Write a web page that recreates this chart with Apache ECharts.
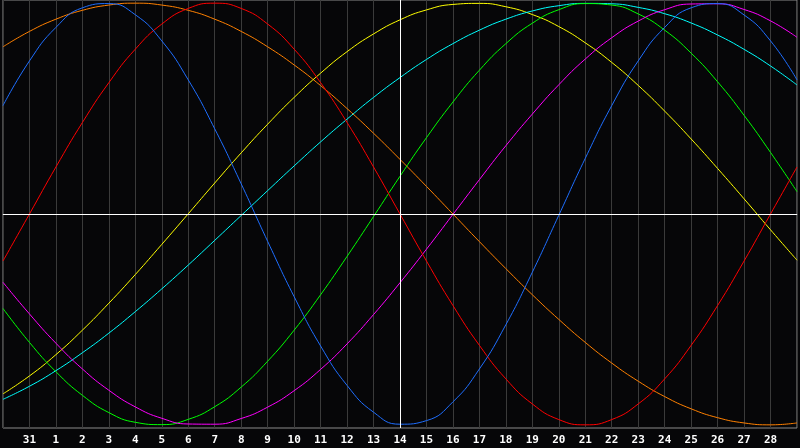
<!DOCTYPE html>
<html>
<head>
<meta charset="utf-8">
<script src="https://cdn.jsdelivr.net/npm/echarts@6/dist/echarts.min.js"></script>
<style>
  html, body { margin: 0; padding: 0; background: #060608; }
  #chart { width: 800px; height: 448px; }
</style>
</head>
<body>
<div id="chart"></div>
<script>
// day labels, first and last are not shown
var days = ['30', '31', '1', '2', '3', '4', '5', '6', '7', '8', '9', '10', '11', '12', '13', '14',
            '15', '16', '17', '18', '19', '20', '21', '22', '23', '24', '25', '26', '27', '28', '1'];
var today = '14';

// curves, percent
var physical = [51.4, 72.6, 88.5, 97.8, 99.8, 94.5, 82.1, 63.6, 40.4, 14.3, -13.0, -39.2, -62.6, -81.3, -94.0, -99.7,
                -98.0, -89.1, -73.5, -52.5, -27.6, -0.6, 26.4, 51.4, 72.6, 88.5, 97.8, 99.8, 94.4, 82.1, 63.6];
var emotional = [-22.3, 0, 22.3, 43.4, 62.3, 78.2, 90.1, 97.5, 100, 97.5, 90.1, 78.2, 62.3, 43.4, 22.3, 0,
                 -22.3, -43.4, -62.3, -78.2, -90.1, -97.5, -100, -97.5, -90.1, -78.2, -62.3, -43.4, -22.3, 0, 22.3];
var intellectual = [-44.8, -60.9, -74.8, -86.0, -94.2, -98.8, -99.9, -97.4, -91.4, -82.1, -69.8, -55.1, -38.3, -20.1, -1.2, 17.9,
                    36.2, 53.1, 68.2, 80.8, 90.5, 96.9, 99.8, 99.1, 94.9, 87.2, 76.3, 62.7, 46.8, 29.2, 10.6];
var intuitive = [-32.4, -47.4, -61.3, -73.5, -83.6, -91.5, -96.9, -99.6, -99.7, -97.0, -91.6, -83.8, -73.7, -61.6, -47.7, -32.6,
                 -16.7, -0.2, 16.3, 32.4, 47.4, 61.3, 73.5, 83.6, 91.5, 96.9, 99.6, 99.7, 97.0, 91.6, 83.8];
var aesthetic = [-85.3, -76.8, -66.7, -55.1, -42.3, -28.7, -14.4, 0.1, 14.7, 29.0, 42.6, 55.3, 66.8, 77.0, 85.4, 92.1,
                 96.8, 99.4, 99.9, 98.3, 94.6, 88.9, 81.2, 71.9, 61.0, 48.8, 35.6, 21.6, 7.2, -7.5, -21.9];
var awareness = [79.3, 86.6, 92.4, 96.6, 99.1, 100, 99.1, 96.6, 92.4, 86.6, 79.3, 70.7, 60.9, 50.0, 38.3, 25.9,
                 13.1, 0, -13.1, -25.9, -38.3, -50.0, -60.9, -70.7, -79.3, -86.6, -92.4, -96.6, -99.1, -100, -99.1];
var spiritual = [-87.9, -81.7, -74.3, -65.8, -56.5, -46.3, -35.5, -24.2, -12.5, -0.7, 11.1, 22.8, 34.2, 45.0, 55.3, 64.7,
                 73.3, 80.8, 87.2, 92.4, 96.3, 98.8, 99.9, 99.7, 98.0, 95.0, 90.6, 84.9, 78.1, 70.2, 61.2];

var chart = echarts.init(document.getElementById('chart'));

function curve(name, values, color) {
    return {
        name: name,
        type: 'line',
        data: values,
        smooth: true,
        symbol: 'none',
        lineStyle: { color: color, width: 1 },
        itemStyle: { color: color }
    };
}

var series = [
    curve('awareness', awareness, '#ff8000'),
    curve('aesthetic', aesthetic, '#ffff00'),
    curve('spiritual', spiritual, '#00ffff'),
    curve('intellectual', intellectual, '#00ff00'),
    curve('intuitive', intuitive, '#ff00ff'),
    curve('emotional', emotional, '#ff0000'),
    curve('physical', physical, '#1e6eff')
];
// white cross through today and the zero line
series[0].markLine = {
    silent: true,
    symbol: 'none',
    label: { show: false },
    lineStyle: { color: '#ffffff', width: 1, type: 'solid' },
    data: [{ xAxis: today }, { yAxis: 0 }]
};

var option = {
    backgroundColor: '#060608',
    animation: false,
    grid: {
        left: 0, right: 0, top: 0, bottom: 20,
        show: true,
        borderColor: '#8a8a8a',
        borderWidth: 1
    },
    xAxis: {
        type: 'category',
        data: days,
        boundaryGap: false,
        axisLine: { lineStyle: { color: '#8a8a8a' } },
        axisTick: { show: false },
        axisLabel: {
            interval: 0,
            margin: 7,
            color: '#ffffff',
            fontFamily: 'DejaVu Sans Mono',
            fontWeight: 'bold',
            fontSize: 11,
            formatter: function (v, i) {
                return (i === 0 || i === days.length - 1) ? '' : v;
            }
        },
        splitLine: { show: true, interval: 0, lineStyle: { color: '#3a3a3a', width: 1 } }
    },
    yAxis: {
        type: 'value',
        min: -101.5,
        max: 101.5,
        show: false,
        splitLine: { show: false }
    },
    series: series
};

chart.setOption(option);
</script>
</body>
</html>
